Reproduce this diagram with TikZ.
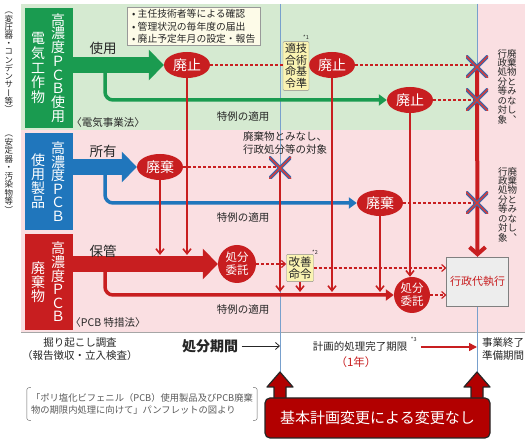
\documentclass[tikz,border=0pt]{standalone}
\usepackage{fontspec}
\setmainfont{Noto Sans CJK JP}
\newfontfamily\tatefont[RawFeature=+vert]{Noto Sans CJK JP}
\usetikzlibrary{shapes.geometric, arrows.meta, positioning, calc}

\definecolor{bandgreen}{RGB}{213,234,209}
\definecolor{bandpink}{RGB}{250,223,226}
\definecolor{pcbgreen}{RGB}{26,155,80}
\definecolor{pcbblue}{RGB}{32,118,188}
\definecolor{pcbred}{RGB}{200,30,32}
\definecolor{linkblue}{RGB}{120,160,205}
\definecolor{xblue}{RGB}{62,104,172}
\definecolor{xred}{RGB}{228,55,45}
\definecolor{notebg}{RGB}{253,251,232}
\definecolor{orderbg}{RGB}{250,243,178}
\definecolor{btnred}{RGB}{178,0,0}

% vertical column: one character per line
\ExplSyntaxOn
\NewDocumentCommand\tate{O{1}m}
  {\vtop{\tatefont\baselineskip=#1em\lineskiplimit=-100pt\lineskip=0pt
    \tl_map_inline:nn{#2}{\hbox_to_wd:nn{1em}{\hss##1\hss}}}}
\ExplSyntaxOff

\begin{document}
\begin{tikzpicture}[x=1pt, y=-1pt,
  every node/.style={text=black!85},
  band/.style={font=\fontsize{10.5}{12.5}\selectfont, align=center},
  verb/.style={font=\fontsize{13.5}{14}\selectfont},
  catbox/.style={minimum width=48pt, inner sep=0pt},
  boxtext/.style={text=white, font=\fontsize{14}{14}\selectfont, inner sep=0pt},
  sidenote/.style={font=\fontsize{8.5}{9}\selectfont, inner sep=0pt},
  tatenote/.style={font=\fontsize{9.5}{10}\selectfont, inner sep=0pt},
  haishi/.style={ellipse, fill=pcbred, text=white, font=\fontsize{14}{14}\selectfont,
    minimum width=46pt, minimum height=26pt, inner sep=0pt},
  itaku/.style={circle, fill=pcbred, text=white, font=\fontsize{11.5}{13}\selectfont,
    minimum size=38pt, inner sep=0pt, align=center},
  orderbox/.style={draw=black!45, fill=orderbg, rounded corners=1pt, inner sep=2pt},
  footmark/.style={font=\fontsize{5.5}{6}\selectfont, inner sep=0pt},
  fatarrow/.style={line width=16pt, -{Triangle[width=30pt,length=15pt]}},
  branch/.style={line width=3.5pt, rounded corners=8pt, -{Triangle[width=11pt,length=8pt]}},
  drop/.style={pcbred, line width=1.6pt, -{Straight Barb[length=5pt,width=8pt]}},
  dashlink/.style={pcbred, line width=1.2pt, dash pattern=on 3pt off 2pt},
  dasharrow/.style={dashlink, -{Straight Barb[length=4pt,width=7pt]}},
  xmark/.style={minimum size=22pt, inner sep=0pt, path picture={
    \draw[xblue, line width=3.6pt] (path picture bounding box.north west) -- (path picture bounding box.south east)
      (path picture bounding box.north east) -- (path picture bounding box.south west);
    \draw[xred, line width=1.4pt] (path picture bounding box.north west) -- (path picture bounding box.south east)
      (path picture bounding box.north east) -- (path picture bounding box.south west);}},
  upblock/.style={fill=btnred, draw=black!85, line width=1.2pt, line join=round}]
  \useasboundingbox (0,0) rectangle (531,443);

  % Bands
  \fill[bandpink] (21,4) rectangle (525,332);
  \fill[bandgreen] (21,4) rectangle (477,130);
  \draw[black!35] (21,332) -- (525,332);

  % Deadlines
  \coordinate (dueTop) at (280,4);
  \coordinate (dueBot) at (280,372);
  \coordinate (endTop) at (477,4);
  \coordinate (endBot) at (477,372);
  \draw[linkblue, line width=0.8pt] (dueTop) -- (dueBot);
  \draw[linkblue, line width=0.8pt] (endTop) -- (endBot);

  % Categories
  \node[catbox, fill=pcbgreen, minimum height=120pt] (boxG) at (49,68) {};
  \node[boxtext] (boxGa) at ([xshift=9pt]boxG.center) {\tate[0.98]{高濃度ＰＣＢ使用}};
  \node[boxtext] (boxGb) at ([xshift=-11pt]boxG.center) {\tate[1.07]{電気工作物}};
  \node[catbox, fill=pcbblue, minimum height=97pt] (boxB) at (49,181.5) {};
  \node[boxtext] (boxBa) at ([xshift=9pt]boxB.center) {\tate[0.97]{高濃度ＰＣＢ}};
  \node[boxtext] (boxBb) at ([xshift=-11pt]boxB.center) {\tate[1]{使用製品}};
  \node[catbox, fill=pcbred, minimum height=96pt] (boxR) at (49,282) {};
  \node[boxtext] (boxRa) at ([xshift=9pt]boxR.center) {\tate[0.97]{高濃度ＰＣＢ}};
  \node[boxtext] (boxRb) at ([xshift=-11pt]boxR.center) {\tate[1]{廃棄物}};
  \node[sidenote, anchor=north] (kindG) at (9,12) {\tate[0.97]{（変圧器・コンデンサー等）}};
  \node[sidenote, anchor=north] (kindB) at (9,135) {\tate[1]{（安定器・汚染物等）}};

  % Steps
  \node[haishi] (haishiA) at (187,65) {廃止};
  \node[haishi] (haishiB) at (332,65) {廃止};
  \node[haishi] (haishiC) at (410,100) {廃止};
  \node[haishi] (haikiA) at (160,167) {廃棄};
  \node[haishi] (haikiB) at (380,203) {廃棄};
  \node[itaku] (itakuA) at (237,264) {処分\\委託};
  \node[itaku, minimum size=36pt] (itakuB) at (412,295) {処分\\委託};
  \node[orderbox, font=\fontsize{11}{11}\selectfont] (gijutsu) at (296,66) {\tate[1.05]{適合命令}\tate[1.05]{技術基準}};
  \node[orderbox, align=center, font=\fontsize{11.5}{12.5}\selectfont] (kaizen) at (300,268) {改善\\命令};
  \node[draw=black!50, fill=black!7, minimum width=59pt, minimum height=49pt, text=pcbred,
    font=\fontsize{11}{12}\selectfont] (gyosei) at (477.5,281.5) {行政代執行};
  \node[footmark] (fn1) at (306,37) {*1};
  \node[footmark] (fn2) at (315,252) {*2};

  \coordinate (xA) at (477,67);
  \coordinate (xB) at (477,100);
  \coordinate (xC) at (280,168);
  \coordinate (xD) at (477,203);
  \coordinate (forkG) at (105,65);
  \coordinate (forkB) at (105,167);
  \coordinate (forkR) at (105,264);
  \coordinate (hokanTop) at (0,255);
  \coordinate (tokuTop) at (0,292);

  % Flows
  \draw[branch, pcbgreen] (forkG) |- (haishiC.west);
  \draw[branch, pcbblue] (forkB) |- (haikiB.west);
  \draw[branch, pcbred] (forkR) |- (itakuB.west);
  \draw[fatarrow, pcbgreen] (boxG.east |- haishiA) -- (haishiA.west);
  \draw[fatarrow, pcbblue] (boxB.east |- haikiA) -- (haikiA.west);
  \draw[fatarrow, pcbred] (boxR.east |- itakuA) -- (itakuA.west);

  \draw[drop] (haikiA) -- (haikiA |- hokanTop);
  \draw[drop] (haishiA) -- (haishiA |- hokanTop);
  \draw[drop] (xC) -- (xC |- tokuTop);
  \draw[drop] (kaizen) -- (kaizen |- tokuTop);
  \draw[drop] (haishiB) -- (haishiB |- tokuTop);
  \draw[drop] (haikiB) -- (haikiB |- tokuTop);
  \draw[drop] (haishiC) -- (haishiC |- itakuB.north);
  \draw[pcbred, line width=4pt, -{Straight Barb[length=7pt,width=16pt]}] (xA) -- (gyosei.north);

  \draw[dashlink] (haishiA.east) -- (haishiA.east -| gijutsu.west);
  \draw[dashlink] (haishiB.east) -- (haishiB.east -| xA);
  \draw[dashlink] (haishiC.east) -- (haishiC.east -| xB);
  \draw[dashlink] (haikiA.east) -- (haikiA.east -| xC);
  \draw[dashlink] (haikiB.east) -- (haikiB.east -| xD);
  \draw[dasharrow] (itakuA.east) -- (itakuA.east -| kaizen.west);
  \draw[dasharrow] (kaizen.east) -- (kaizen.east -| gyosei.west);
  \draw[dasharrow] (itakuB.east) -- (itakuB.east -| gyosei.west);

  % Labels
  \node[verb] (useG) at (103,48) {使用};
  \node[verb] (ownB) at (103,151) {所有};
  \node[verb] (keepR) at (103,251) {保管};
  \node[band] (lawG) at (108,123) {〈電気事業法〉};
  \node[band] (lawR) at (108,323) {〈PCB 特措法〉};
  \node[band] (tokureiG) at (243,117) {特例の適用};
  \node[band] (tokureiB) at (243,218) {特例の適用};
  \node[band] (tokureiR) at (243,310) {特例の適用};
  \node[band] (minasiC) at (285,143) {廃棄物とみなし、\\行政処分等の対象};
  \node[tatenote, anchor=north] (minasiA) at (507,49) {\tate[0.99]{行政処分等の対象}\tate[0.99]{廃棄物とみなし、}};
  \node[tatenote, anchor=north] (minasiD) at (507.5,167) {\tate[0.99]{行政処分等の対象}\tate[0.99]{廃棄物とみなし、}};
  \node[draw=black!40, fill=notebg, anchor=north west, align=left, font=\fontsize{9.8}{12.6}\selectfont,
    inner xsep=5pt, inner ysep=2pt] (duty) at (127,7)
    {• 主任技術者等による確認\\• 管理状況の毎年度の届出\\• 廃止予定年月の設定・報告};

  % Time line
  \node[band] (survey) at (80,349) {掘り起こし調査\\（報告徴収・立入検査）};
  \node[font=\fontsize{14}{15}\selectfont\bfseries] (kikan) at (210,346) {処分期間};
  \draw[black!85, line width=0.8pt, -{Straight Barb[length=4pt,width=7pt]}] (kikan.east) -- (kikan.east -| dueBot);
  \node[band] (kigen) at (360,347) {計画的処理完了期限};
  \node[footmark, anchor=south west] (fn3) at ([yshift=-3pt]kigen.north east) {*3};
  \draw[pcbred, line width=1.6pt, -{Triangle[length=8pt,width=8pt]}] ([xshift=10pt]kigen.east) -- (kigen.east -| endBot);
  \node[band, text=pcbred, font=\fontsize{11.5}{13}\selectfont] (ichinen) at (356,362) {（1年）};
  \node[band] (junbi) at (503,349) {事業終了\\準備期間};

  % Source
  \node[align=left, text=black!65, font=\fontsize{9.3}{11.5}\selectfont, inner xsep=4pt, inner ysep=6pt] (cite) at (142,404)
    {「ポリ塩化ビフェニル（PCB）使用製品及びPCB廃棄\\物の期限内処理に向けて」パンフレットの図より};
  \draw[black!60, rounded corners=2pt] ([xshift=4pt]cite.north west) -- (cite.north west) -- (cite.south west) -- ([xshift=4pt]cite.south west);
  \draw[black!60, rounded corners=2pt] ([xshift=-4pt]cite.north east) -- (cite.north east) -- (cite.south east) -- ([xshift=-4pt]cite.south east);

  % No change
  \draw[upblock] (dueBot) -- ++(13,15) -- ++(-7,0) -- ++(0,12) -- ++(-12,0) -- ++(0,-12) -- ++(-7,0) -- cycle;
  \draw[upblock] (endBot) -- ++(13,15) -- ++(-7,0) -- ++(0,12) -- ++(-12,0) -- ++(0,-12) -- ++(-7,0) -- cycle;
  \node[fill=btnred, draw=black!85, line width=1.2pt, rounded corners=5pt, minimum width=225pt, minimum height=40pt,
    text=white, font=\fontsize{15}{16}\selectfont] (henko) at (377.5,418) {基本計画変更による変更なし};

  % Crosses
  \foreach \m in {xA,xB,xC,xD}
    \node[xmark] at (\m) {};
\end{tikzpicture}
\end{document}
